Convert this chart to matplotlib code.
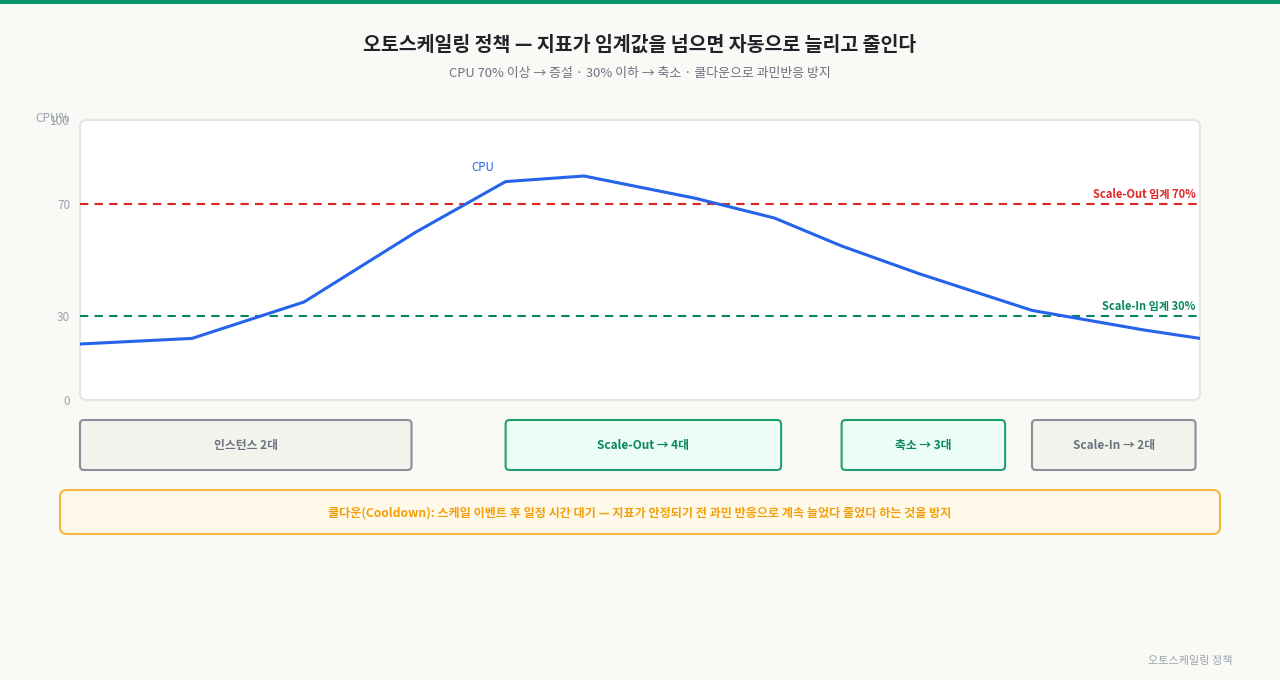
import matplotlib
matplotlib.use("Agg")
import matplotlib.pyplot as plt
from matplotlib.patches import FancyBboxPatch, Rectangle

plt.rcParams['font.family'] = ['Noto Sans CJK KR', 'DejaVu Sans']

# ---- data ----
time_pts = [0, 10, 20, 30, 38, 45, 55, 62, 68, 75, 85, 95, 100]
cpu_vals = [20, 22, 35, 60, 78, 80, 72, 65, 55, 45, 32, 25, 22]
scale_out_th = 70
scale_in_th = 30
y_ticks = [0, 30, 70, 100]
phase_labels = ["인스턴스 2대", "Scale-Out → 4대", "축소 → 3대", "Scale-In → 2대"]
phase_spans = [(0, 29.6), (38, 62.6), (68, 82.6), (85, 99.6)]
phase_kinds = ["gray", "green", "green", "gray"]

title = "오토스케일링 정책 — 지표가 임계값을 넘으면 자동으로 늘리고 줄인다"
subtitle = "CPU 70% 이상 → 증설 · 30% 이하 → 축소 · 쿨다운으로 과민반응 방지"
note = "쿨다운(Cooldown): 스케일 이벤트 후 일정 시간 대기 — 지표가 안정되기 전 과민 반응으로 계속 늘었다 줄었다 하는 것을 방지"
footer = "오토스케일링 정책"

BG = "#f9f9f5"
W, H = 1280, 680
fig = plt.figure(figsize=(W / 100, H / 100), dpi=100, facecolor=BG)

# overlay in pixel coords (top-down)
ov = fig.add_axes([0, 0, 1, 1], zorder=0)
ov.set_xlim(0, W)
ov.set_ylim(H, 0)
ov.axis("off")
ov.set_facecolor("none")

# top bar
ov.add_patch(Rectangle((0, 0), W, 4, color="#079669", lw=0))

# plot frame
ov.add_patch(FancyBboxPatch((80, 120), 1120, 280, boxstyle="round,pad=0,rounding_size=7",
                            fc="white", ec="#e6e6df", lw=1.5))

ov.text(640, 45, title, ha="center", va="center", fontsize=14, fontweight="bold", color="#1f2328")
ov.text(640, 73, subtitle, ha="center", va="center", fontsize=9.3, color="#6b7280")

# main axes
ax = fig.add_axes([80 / W, (H - 400) / H, 1120 / W, 280 / H], zorder=2)
ax.set_facecolor("none")
ax.set_xlim(0, 100)
ax.set_ylim(0, 100)
for s in ax.spines.values():
    s.set_visible(False)
ax.set_xticks([])
ax.set_yticks(y_ticks)
ax.set_yticklabels([str(v) for v in y_ticks])
ax.tick_params(axis="y", length=0, pad=7, labelsize=8.5, labelcolor="#9ca3af")

ax.axhline(scale_out_th, color="#dc2626", lw=1.5, ls=(0, (4, 3)))
ax.axhline(scale_in_th, color="#07875f", lw=1.5, ls=(0, (4, 3)))
ax.plot(time_pts, cpu_vals, color="#2563eb", lw=2.2, solid_joinstyle="round")

ax.text(99.6, scale_out_th + 1.2, f"Scale-Out 임계 {scale_out_th}%", ha="right", va="bottom",
        fontsize=8, fontweight="bold", color="#dc2626")
ax.text(99.6, scale_in_th + 1.2, f"Scale-In 임계 {scale_in_th}%", ha="right", va="bottom",
        fontsize=8, fontweight="bold", color="#07875f")
ax.text(36, 83.2, "CPU", ha="center", va="center", fontsize=8.3, color="#2563eb")

ov.text(35, 119, "CPU%", ha="left", va="center", fontsize=8.5, color="#9ca3af")

# phase boxes
fig.canvas.draw()
styles = {
    "gray": dict(fc="#f3f3ee", ec="#8a8f99", tc="#6b7280"),
    "green": dict(fc="#ecfdf5", ec="#1f9e72", tc="#07875f"),
}
for lab, (x0, x1), kind in zip(phase_labels, phase_spans, phase_kinds):
    px0 = ax.transData.transform((x0, 0))[0]
    px1 = ax.transData.transform((x1, 0))[0]
    st = styles[kind]
    ov.add_patch(FancyBboxPatch((px0, 420), px1 - px0, 50, boxstyle="round,pad=0,rounding_size=4",
                                fc=st["fc"], ec=st["ec"], lw=1.5))
    ov.text((px0 + px1) / 2, 446, lab, ha="center", va="center", fontsize=8.5,
            fontweight="bold", color=st["tc"])

# cooldown note
ov.add_patch(FancyBboxPatch((60, 490), 1160, 44, boxstyle="round,pad=0,rounding_size=7",
                            fc="#fef9e8", ec="#f5b541", lw=1.5))
ov.text(640, 513, note, ha="center", va="center", fontsize=8.7, fontweight="bold", color="#f59e0b")

ov.text(1232, 661, footer, ha="right", va="center", fontsize=8, color="#9ca3af")

fig.savefig("out.png", dpi=100, facecolor=BG)
